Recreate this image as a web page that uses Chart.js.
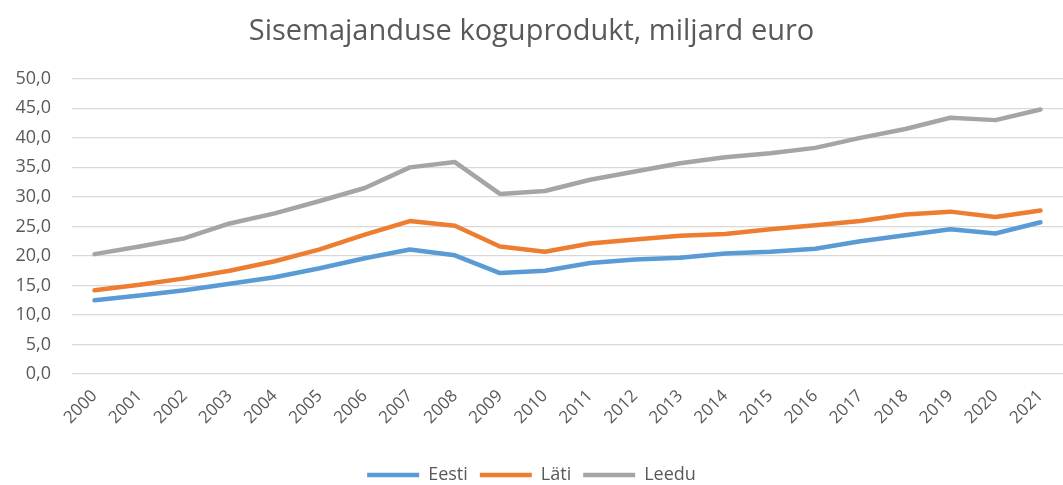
<!DOCTYPE html>
<html>
<head>
<meta charset="utf-8">
<script src="https://cdn.jsdelivr.net/npm/chart.js@4/dist/chart.umd.min.js"></script>
<style>
  html, body { margin: 0; padding: 0; background: #fff; }
  #wrap { width: 1063px; height: 485px; }
</style>
</head>
<body>
<div id="wrap"><canvas id="myChart"></canvas></div>
<script>
// data
const years = ['2000', '2001', '2002', '2003', '2004', '2005', '2006', '2007', '2008', '2009', '2010',
  '2011', '2012', '2013', '2014', '2015', '2016', '2017', '2018', '2019', '2020', '2021'];
const eesti = [12.5, 13.3, 14.2, 15.3, 16.4, 17.9, 19.6, 21.1, 20.1, 17.1, 17.5,
  18.8, 19.4, 19.7, 20.4, 20.7, 21.2, 22.5, 23.5, 24.5, 23.8, 25.7];
const lati = [14.2, 15.1, 16.2, 17.5, 19.1, 21.1, 23.6, 25.9, 25.1, 21.6, 20.7,
  22.1, 22.8, 23.4, 23.7, 24.5, 25.2, 25.9, 27.0, 27.5, 26.6, 27.7];
const leedu = [20.3, 21.6, 23.0, 25.5, 27.2, 29.3, 31.5, 35.0, 35.9, 30.5, 31.0,
  32.9, 34.3, 35.7, 36.7, 37.4, 38.3, 40.0, 41.5, 43.4, 43.0, 44.8];
const yTicks = [0, 5, 10, 15, 20, 25, 30, 35, 40, 45, 50];

const font = 'Open Sans';
const textColor = '#595959';

function line(label, values, color) {
  return {
    label: label,
    data: values,
    borderColor: color,
    backgroundColor: color,
    borderWidth: 4.5,
    borderCapStyle: 'round',
    borderJoinStyle: 'round',
    pointRadius: 0,
    tension: 0
  };
}

const config = {
  type: 'line',
  data: {
    labels: years,
    datasets: [
      line('Eesti', eesti, '#5B9BD5'),
      line('Läti', lati, '#ED7D31'),
      line('Leedu', leedu, '#A5A5A5')
    ]
  },
  options: {
    responsive: true,
    maintainAspectRatio: false,
    animation: false,
    // legend sits partly in the bottom padding so it lands low like the original
    layout: { padding: { left: 0, right: 0, top: 0, bottom: -9 } },
    scales: {
      x: {
        offset: true,
        grid: { display: false },
        border: { display: false },
        ticks: {
          color: textColor,
          font: { family: font, size: 17 },
          minRotation: 45,
          maxRotation: 45,
          padding: 4
        },
        afterFit: (s) => { s.height = 80; }
      },
      y: {
        min: 0,
        max: 50,
        afterBuildTicks: (s) => { s.ticks = yTicks.map(v => ({ value: v })); },
        grid: { color: '#D9D9D9', lineWidth: 1.3, drawTicks: false },
        border: { display: false },
        ticks: {
          color: textColor,
          font: { family: font, size: 18 },
          padding: 21,
          callback: (v) => v.toFixed(1).replace('.', ',')
        },
        afterFit: (s) => { s.width = 72; }
      }
    },
    plugins: {
      title: {
        display: true,
        text: 'Sisemajanduse koguprodukt, miljard euro',
        color: textColor,
        font: { family: font, size: 29, weight: 'normal' },
        padding: { top: 14, bottom: 30 }
      },
      legend: {
        position: 'bottom',
        labels: {
          color: textColor,
          font: { family: font, size: 18 },
          usePointStyle: true,
          pointStyle: 'line',
          pointStyleWidth: 52,
          boxWidth: 52,
          boxHeight: 5,
          padding: 12
        }
      },
      tooltip: { enabled: false }
    }
  }
};

const myChart = new Chart(document.getElementById('myChart'), config);
</script>
</body>
</html>
